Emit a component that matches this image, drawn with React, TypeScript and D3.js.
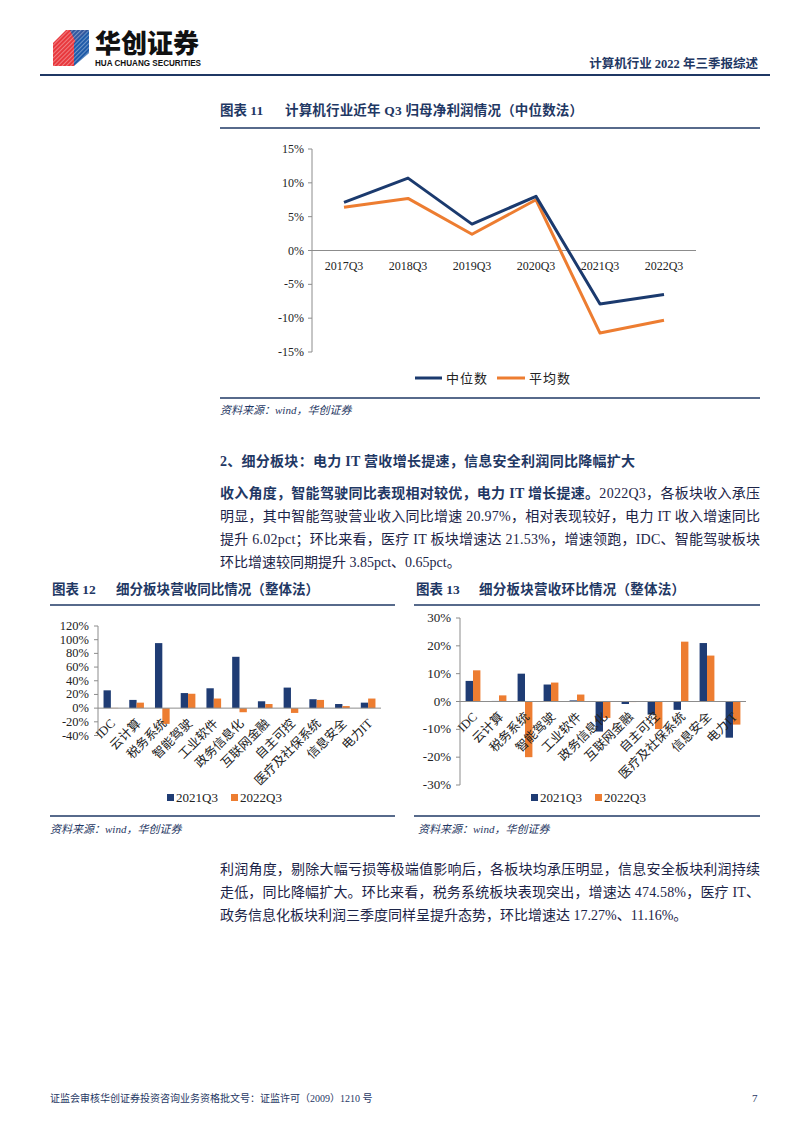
import React from 'react';
import * as d3 from 'd3';

// ---------- data ----------
const lineCategories = ['2017Q3', '2018Q3', '2019Q3', '2020Q3', '2021Q3', '2022Q3'];
const medianValues = [7.1, 10.7, 3.9, 8.0, -7.9, -6.5];
const meanValues = [6.4, 7.7, 2.4, 7.5, -12.2, -10.3];
const lineTicks = [-15, -10, -5, 0, 5, 10, 15];

const sectors = ['IDC', '云计算', '税务系统', '智能驾驶', '工业软件', '政务信息化', '互联网金融', '自主可控', '医疗及社保系统', '信息安全', '电力IT'];
const yoy2021 = [26, 12, 95, 22, 29, 75, 10, 30, 13, 6, 8];
const yoy2022 = [0.3, 8, -23, 21, 14, -6, 6, -7, 12, 3, 14];
const yoyTicks = [-40, -20, 0, 20, 40, 60, 80, 100, 120];
const qoq2021 = [7.4, 0.2, 10, 6.1, 0.4, -10.8, -0.9, -4.7, -3.0, 21, -13];
const qoq2022 = [11.2, 2.2, -20, 6.8, 2.5, -5.9, -0.2, -9.9, 21.5, 16.5, -8.3];
const qoqTicks = [-30, -20, -10, 0, 10, 20, 30];
const seriesNames = ['2021Q3', '2022Q3'];

// ---------- style ----------
const NAVY = '#1F3C74';
const LINE_NAVY = '#1B3A6E';
const ORANGE = '#ED7D31';
const TITLE = '#1F3864';
const BODY = '#1c2448';
const AXIS = '#8c8c8c';
const FONT = "'Liberation Serif','Noto Sans CJK SC',serif";
const SANS = "'Noto Sans CJK SC','Noto Sans',sans-serif";

function LineChart() {
  const x = d3.scaleBand<string>().domain(lineCategories).range([312, 696]);
  const y = d3.scaleLinear().domain([-15, 15]).range([352, 149]);
  const cx = (c: string) => (x(c) as number) + x.bandwidth() / 2;
  const line = d3.line<number>().x((_, i) => cx(lineCategories[i])).y((v) => y(v));
  return (
    <g>
      <line x1={312} x2={312} y1={y(15)} y2={y(-15)} stroke={AXIS} strokeWidth={1} />
      {lineTicks.map((t) => (
        <g key={t}>
          <line x1={308} x2={312} y1={y(t)} y2={y(t)} stroke={AXIS} />
          <text x={304} y={y(t) + 4} textAnchor="end" fontSize={12} fontFamily={FONT} fill="#222">{t}%</text>
        </g>
      ))}
      <line x1={312} x2={696} y1={y(0)} y2={y(0)} stroke={AXIS} strokeWidth={1} />
      {lineCategories.map((c) => (
        <text key={c} x={cx(c)} y={y(0) + 19} textAnchor="middle" fontSize={12} fontFamily={FONT} fill="#222">{c}</text>
      ))}
      <path d={line(meanValues) || ''} fill="none" stroke={ORANGE} strokeWidth={3} strokeLinejoin="round" />
      <path d={line(medianValues) || ''} fill="none" stroke={LINE_NAVY} strokeWidth={3} strokeLinejoin="round" />
      {/* legend */}
      <line x1={415} x2={442} y1={378} y2={378} stroke={LINE_NAVY} strokeWidth={3} />
      <text x={446} y={383} fontSize={13} fontFamily={FONT} fill="#222" letterSpacing={1}>中位数</text>
      <line x1={497} x2={525} y1={378} y2={378} stroke={ORANGE} strokeWidth={3} />
      <text x={529} y={383} fontSize={13} fontFamily={FONT} fill="#222" letterSpacing={1}>平均数</text>
    </g>
  );
}

type BarProps = {
  xRange: [number, number];
  yRange: [number, number];
  domain: [number, number];
  ticks: number[];
  s1: number[];
  s2: number[];
  tickFont: number;
  legendX: number;
  legendY: number;
};

function BarChart(p: BarProps) {
  const x = d3.scaleBand<string>().domain(sectors).range(p.xRange).paddingInner(0.43).paddingOuter(0.215);
  const sub = d3.scaleBand<string>().domain(seriesNames).range([0, x.bandwidth()]);
  const y = d3.scaleLinear().domain(p.domain).range(p.yRange);
  const y0 = y(0);
  const axisX = p.xRange[0];
  const series = [p.s1, p.s2];
  const colors = [NAVY, ORANGE];
  return (
    <g>
      {series.map((vals, si) =>
        vals.map((v, i) => (
          <rect
            key={`${si}-${i}`}
            x={(x(sectors[i]) as number) + (sub(seriesNames[si]) as number)}
            width={sub.bandwidth()}
            y={Math.min(y(v), y0)}
            height={Math.abs(y(v) - y0)}
            fill={colors[si]}
          />
        ))
      )}
      <line x1={axisX} x2={axisX} y1={y(p.domain[1])} y2={y(p.domain[0])} stroke={AXIS} />
      {p.ticks.map((t) => (
        <g key={t}>
          <line x1={axisX - 4} x2={axisX} y1={y(t)} y2={y(t)} stroke={AXIS} />
          <text x={axisX - 9} y={y(t) + 4} textAnchor="end" fontSize={p.tickFont} fontFamily={FONT} fill="#222">{t}%</text>
        </g>
      ))}
      <line x1={axisX} x2={p.xRange[1]} y1={y0} y2={y0} stroke={AXIS} />
      {sectors.map((s) => {
        const c = (x(s) as number) + x.bandwidth() / 2 + 5;
        const yy = y0 + 16;
        return (
          <text key={s} x={c} y={yy} transform={`rotate(-45 ${c} ${yy})`} textAnchor="end" fontSize={12.5} fontFamily={FONT} fill="#222">{s}</text>
        );
      })}
      {/* legend */}
      <rect x={p.legendX} y={p.legendY - 4} width={7} height={7} fill={NAVY} />
      <text x={p.legendX + 9} y={p.legendY + 4} fontSize={13} fontFamily={FONT} fill="#222">{seriesNames[0]}</text>
      <rect x={p.legendX + 64} y={p.legendY - 4} width={7} height={7} fill={ORANGE} />
      <text x={p.legendX + 73} y={p.legendY + 4} fontSize={13} fontFamily={FONT} fill="#222">{seriesNames[1]}</text>
    </g>
  );
}

function Logo() {
  return (
    <g>
      <defs>
        <pattern id="stripes" patternUnits="userSpaceOnUse" width={3} height={3} patternTransform="rotate(45)">
          <rect width={3} height={3} fill="none" />
          <line x1={0} y1={0} x2={0} y2={3} stroke="#fff" strokeWidth={1} />
        </pattern>
      </defs>
      <polygon points="53,43 66,30 89,30 76,43" fill="#E8383D" />
      <polygon points="53,43 74,43 74,66 53,66" fill="#E8383D" />
      <polygon points="74,43 89,30 89,53 74,66" fill="#1F5BA8" />
      <polygon points="70,30 89,30 89,53 76,43" fill="#1F5BA8" opacity={0.9} />
      <polygon points="53,43 66,30 89,30 89,53 74,66 53,66" fill="url(#stripes)" opacity={0.7} />
      <text x={95} y={53} fontSize={26} fontWeight={900} fontFamily={SANS} fill="#111" textLength={104} lengthAdjust="spacingAndGlyphs">华创证券</text>
      <text x={95} y={66} fontSize={8.5} fontWeight={700} fontFamily="'Liberation Sans','DejaVu Sans',sans-serif" fill="#111" textLength={106} lengthAdjust="spacingAndGlyphs">HUA CHUANG SECURITIES</text>
    </g>
  );
}

export default function App() {
  return (
    <div style={{ position: 'absolute', left: 0, top: 0, width: 802, height: 1133, background: '#fff' }}>
      <svg width={802} height={1133} viewBox="0 0 802 1133" xmlns="http://www.w3.org/2000/svg">
        <rect width={802} height={1133} fill="#fff" />
        {/* header */}
        <Logo />
        <text x={758} y={68} textAnchor="end" fontSize={12.5} fontWeight={700} fontFamily={FONT} fill={TITLE}>计算机行业 2022 年三季报综述</text>
        <line x1={40} x2={770} y1={75} y2={75} stroke={TITLE} strokeWidth={2.2} />

        {/* chart 11 */}
        <text x={220} y={115} fontSize={13.5} fontWeight={700} fontFamily={FONT} fill={TITLE}>图表 11</text>
        <text x={285} y={115} fontSize={13.5} fontWeight={700} fontFamily={FONT} fill={TITLE} textLength={298} lengthAdjust="spacing">计算机行业近年 Q3 归母净利润情况（中位数法）</text>
        <line x1={220} x2={760} y1={128} y2={128} stroke={TITLE} strokeWidth={1.5} />
        <LineChart />
        <line x1={220} x2={760} y1={398} y2={398} stroke={TITLE} strokeWidth={1.5} />
        <text x={220} y={414} fontSize={11} fontStyle="italic" fontFamily={FONT} fill={TITLE}>资料来源：wind，华创证券</text>

        {/* section text */}
        <text x={220} y={466} fontSize={14} fontWeight={700} fontFamily={FONT} fill={TITLE} textLength={415} lengthAdjust="spacing">2、细分板块：电力 IT 营收增长提速，信息安全利润同比降幅扩大</text>
        <text x={220} y={498} fontSize={14} fontFamily={FONT} fill={BODY} textLength={540} lengthAdjust="spacing">
          <tspan fontWeight={700} fill={TITLE}>收入角度，智能驾驶同比表现相对较优，电力 IT 增长提速。</tspan>
          <tspan>2022Q3，各板块收入承压</tspan>
        </text>
        <text x={220} y={521} fontSize={14} fontFamily={FONT} fill={BODY} textLength={540} lengthAdjust="spacing">明显，其中智能驾驶营业收入同比增速 20.97%，相对表现较好，电力 IT 收入增速同比</text>
        <text x={220} y={544} fontSize={14} fontFamily={FONT} fill={BODY} textLength={540} lengthAdjust="spacing">提升 6.02pct；环比来看，医疗 IT 板块增速达 21.53%，增速领跑，IDC、智能驾驶板块</text>
        <text x={220} y={567} fontSize={14} fontFamily={FONT} fill={BODY}>环比增速较同期提升 3.85pct、0.65pct。</text>

        {/* chart 12 */}
        <text x={52} y={594} fontSize={13.5} fontWeight={700} fontFamily={FONT} fill={TITLE}>图表 12</text>
        <text x={116} y={594} fontSize={13.5} fontWeight={700} fontFamily={FONT} fill={TITLE} textLength={203} lengthAdjust="spacing">细分板块营收同比情况（整体法）</text>
        <line x1={50} x2={395} y1={605} y2={605} stroke={TITLE} strokeWidth={1.5} />
        <BarChart xRange={[98, 381]} yRange={[735.5, 626]} domain={[-40, 120]} ticks={yoyTicks} s1={yoy2021} s2={yoy2022} tickFont={12.5} legendX={167} legendY={798} />
        <line x1={50} x2={395} y1={816} y2={816} stroke={TITLE} strokeWidth={1.5} />
        <text x={50} y={833} fontSize={11} fontStyle="italic" fontFamily={FONT} fill={TITLE}>资料来源：wind，华创证券</text>

        {/* chart 13 */}
        <text x={416} y={594} fontSize={13.5} fontWeight={700} fontFamily={FONT} fill={TITLE}>图表 13</text>
        <text x={479} y={594} fontSize={13.5} fontWeight={700} fontFamily={FONT} fill={TITLE} textLength={206} lengthAdjust="spacing">细分板块营收环比情况（整体法）</text>
        <line x1={414} x2={760} y1={605} y2={605} stroke={TITLE} strokeWidth={1.5} />
        <BarChart xRange={[460, 746]} yRange={[785, 618]} domain={[-30, 30]} ticks={qoqTicks} s1={qoq2021} s2={qoq2022} tickFont={13} legendX={531} legendY={798} />
        <line x1={414} x2={760} y1={816} y2={816} stroke={TITLE} strokeWidth={1.5} />
        <text x={418} y={833} fontSize={11} fontStyle="italic" fontFamily={FONT} fill={TITLE}>资料来源：wind，华创证券</text>

        {/* second paragraph */}
        <text x={220} y={874} fontSize={14} fontFamily={FONT} fill={BODY} textLength={540} lengthAdjust="spacing">利润角度，剔除大幅亏损等极端值影响后，各板块均承压明显，信息安全板块利润持续</text>
        <text x={220} y={897} fontSize={14} fontFamily={FONT} fill={BODY} textLength={540} lengthAdjust="spacing">走低，同比降幅扩大。环比来看，税务系统板块表现突出，增速达 474.58%，医疗 IT、</text>
        <text x={220} y={920} fontSize={14} fontFamily={FONT} fill={BODY}>政务信息化板块利润三季度同样呈提升态势，环比增速达 17.27%、11.16%。</text>

        {/* footer */}
        <text x={50} y={1102} fontSize={10} fontFamily={FONT} fill={TITLE}>证监会审核华创证券投资咨询业务资格批文号：证监许可（2009）1210 号</text>
        <text x={752} y={1102} fontSize={11} fontFamily={FONT} fill={TITLE}>7</text>
      </svg>
    </div>
  );
}
